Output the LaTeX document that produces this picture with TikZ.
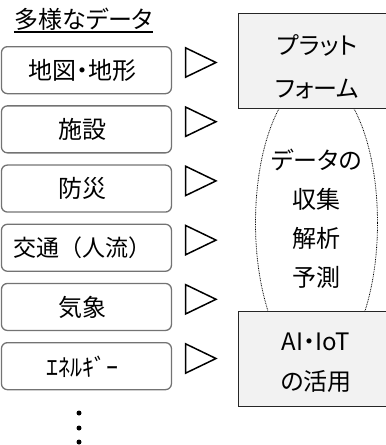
\documentclass[tikz,border=0pt]{standalone}
\usepackage{fontspec}
\usetikzlibrary{shapes.geometric}
\setmainfont[RawFeature=+palt]{Noto Sans CJK JP}
\newfontfamily\fwjp{Noto Sans CJK JP}
\begin{document}
\begin{tikzpicture}[x=1pt,y=-1pt,
  jp/.style={font=\fontsize{24}{40}\selectfont, inner sep=0pt, align=center},
  databox/.style={draw=black!55, line width=1.3pt, rounded corners=6pt,
    minimum width=170pt, minimum height=47pt, inner sep=0pt, anchor=north west},
  sysbox/.style={draw=black!85, line width=1.2pt, fill=black!5,
    minimum width=160pt, minimum height=95pt, inner sep=0pt, anchor=north west},
  tri/.style={draw=black, line width=1.5pt, line join=miter},
  dotline/.style={line width=0.8pt, dash pattern=on 0.8pt off 0.9pt},
  dotmark/.style={fill=black, circle, inner sep=0pt, minimum size=5pt}]
\clip (0,0) rectangle (386,445);
% title
\node[jp, anchor=base] (title) at (83.5,28.5) {多様なデータ};
\coordinate (ulA) at ([yshift=-3.6pt]title.base west);
\coordinate (ulB) at ([yshift=-3.6pt]title.base east);
\draw[line width=1.3pt] (ulA) -- (ulB);
% left boxes
\foreach \i/\t in {0/地図・地形,1/施設,2/防災,3/{\fwjp\fontsize{23}{30}\selectfont 交通（人流）},4/気象,5/ｴﾈﾙｷﾞｰ}{
  \pgfmathsetmacro\yy{46+59.2*\i}
  \node[databox] (b\i) at (0.8,\yy) {};
  \node[jp] (t\i) at (82.5,\yy+24.5) {\t};
  \coordinate (p\i) at (185.5,\yy+1.8);
  \coordinate (q\i) at (216,\yy+16.5);
  \coordinate (r\i) at (185.5,\yy+31.2);
  \draw[tri] (p\i) -- (q\i) -- (r\i) -- cycle;
}
% dots
\node[dotmark] (d1) at (79,413) {};
\node[dotmark] (d2) at (79,428) {};
\node[dotmark] (d3) at (79,442) {};
% ellipse
\node[draw, dotline, ellipse, minimum width=122pt, minimum height=290pt, inner sep=0pt] (ell) at (316.5,223) {};
\node[jp, font=\fontsize{24}{39}\selectfont] (etext) at (316.5,219) {データの\\収集\\解析\\予測};
% right boxes
\node[sysbox] (plat) at (238,13) {};
\node[jp, font=\fontsize{24}{43}\selectfont] (ptext) at (317,66.5) {プラット\\フォーム};
\node[sysbox] (ai) at (238,311) {};
\node[jp, font=\fontsize{24}{40}\selectfont] (atext) at (316,363) {AI・IoT\\の活用};
\end{tikzpicture}
\end{document}
